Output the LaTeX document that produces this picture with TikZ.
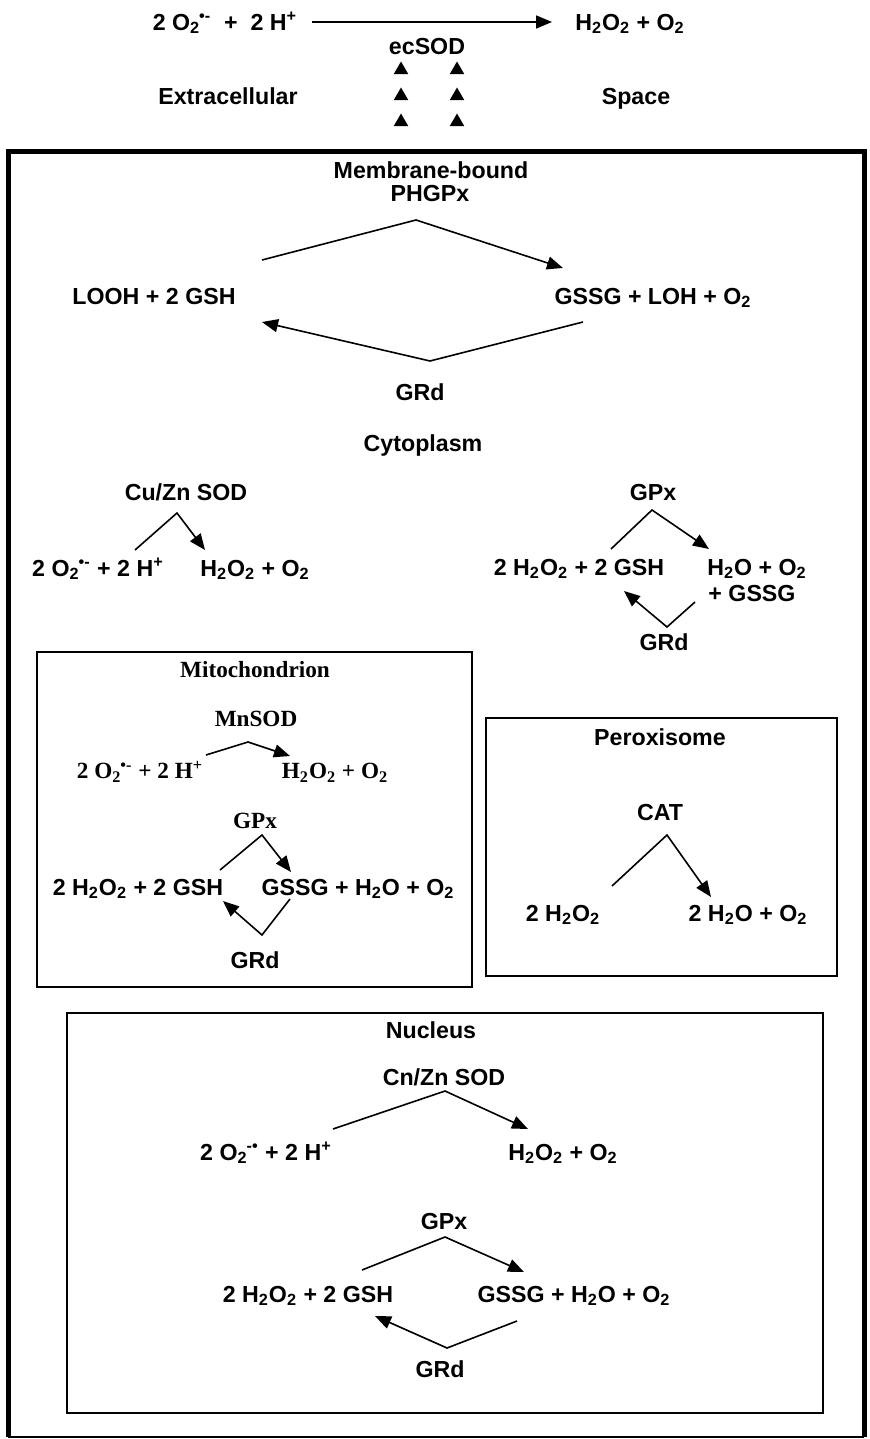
\documentclass[tikz,border=0pt]{standalone}
\usepackage{fontspec}
\setmainfont{Liberation Sans}
\newfontfamily\tms{Liberation Serif}
\usetikzlibrary{arrows.meta,shapes.geometric}
\newcommand\two{\textsubscript{2}}
\newcommand\rad[1]{\textsubscript{2}\kern-0.5pt\textsuperscript{#1}}
\begin{document}
\begin{tikzpicture}[x=0.5pt,y=-0.5pt,
  lbl/.style={inner sep=0pt, text height=8.3pt, text depth=0pt, font=\bfseries\fontsize{11.6}{14}\selectfont},
  slbl/.style={lbl, text height=7.8pt, font=\tms\bfseries\fontsize{11.6}{14}\selectfont},
  rx/.style={line width=0.8pt, -{Triangle[length=8pt,width=6.5pt]}, line join=miter},
  compbox/.style={draw, line width=0.9pt},
  tri/.style={regular polygon, regular polygon sides=3, fill, inner sep=0pt, minimum size=8.5pt}]
\useasboundingbox (0,0) rectangle (870,1439);

% ---------- extracellular ----------
\node[lbl] (ex1) at (225,22) {2 O\rad{•-}\ \ +\ \ 2 H\textsuperscript{+}};
\node[lbl] (ex2) at (630,22) {H\two O\two{} + O\two};
\coordinate (ta1) at (312,22);
\coordinate (ta2) at (552,22);
\draw[rx] (ta1) -- (ta2);
\node[lbl] (ecsod) at (427,46) {ecSOD};
\node[tri] (t11) at (401,70) {};
\node[tri] (t12) at (457,70) {};
\node[tri] (t21) at (401,96) {};
\node[tri] (t22) at (457,96) {};
\node[tri] (t31) at (401,122) {};
\node[tri] (t32) at (457,122) {};
\node[lbl] (extra) at (228,96) {Extracellular};
\node[lbl] (space) at (636,96) {Space};

% ---------- cell boundary ----------
\draw[line width=2.5pt, line join=miter] (8,1437) -- (8,152) -- (864,152) -- (864,1437);
\draw[line width=0.8pt] (8,1437) -- (864,1437);

% ---------- membrane ----------
\node[lbl] (mb1) at (431,170) {Membrane-bound};
\node[lbl] (mb2) at (430,193) {PHGPx};
\node[lbl] (looh) at (154,296) {LOOH + 2 GSH};
\node[lbl] (gssg) at (653,296) {GSSG + LOH + O\two};
\coordinate (m1s) at (262,260);
\coordinate (m1a) at (416,220);
\coordinate (m1e) at (563,268);
\draw[rx] (m1s) -- (m1a) -- (m1e);
\coordinate (m2s) at (583,322);
\coordinate (m2a) at (430,361);
\coordinate (m2e) at (262,322);
\draw[rx] (m2s) -- (m2a) -- (m2e);
\node[lbl] (mgrd) at (420,392) {GRd};
\node[lbl] (cyto) at (423,443) {Cytoplasm};

% ---------- cytoplasm left ----------
\node[lbl] (cusod) at (186,492) {Cu/Zn SOD};
\node[lbl] (c1l) at (98,568) {2 O\rad{•-} + 2 H\textsuperscript{+}};
\node[lbl] (c1r) at (255,568) {H\two O\two{} + O\two};
\coordinate (c1s) at (135,550);
\coordinate (c1a) at (177,513);
\coordinate (c1e) at (205,550);
\draw[rx] (c1s) -- (c1a) -- (c1e);

% ---------- cytoplasm right ----------
\node[lbl] (cgpx) at (653,492) {GPx};
\node[lbl] (c2l) at (579,567) {2 H\two O\two{} + 2 GSH};
\node[lbl] (c2r1) at (757,567) {H\two O + O\two};
\node[lbl] (c2r2) at (752,593) {+ GSSG};
\coordinate (c2s) at (611,549);
\coordinate (c2a) at (652,510);
\coordinate (c2e) at (709,549);
\draw[rx] (c2s) -- (c2a) -- (c2e);
\coordinate (c3s) at (695,602);
\coordinate (c3a) at (667,627);
\coordinate (c3e) at (624,591);
\draw[rx] (c3s) -- (c3a) -- (c3e);
\node[lbl] (cgrd) at (664,642) {GRd};

% ---------- mitochondrion ----------
\draw[compbox] (37,652) rectangle (472,987);
\node[slbl] (mito) at (255,670) {Mitochondrion};
\node[slbl] (mnsod) at (256,719) {MnSOD};
\node[slbl] (mo1l) at (140,771) {2 O\rad{•-} + 2 H\textsuperscript{+}};
\node[slbl] (mo1r) at (335,771) {H\two O\two{} + O\two};
\coordinate (mo1s) at (206,755);
\coordinate (mo1a) at (248,742);
\coordinate (mo1e) at (290,756);
\draw[rx] (mo1s) -- (mo1a) -- (mo1e);
\node[slbl] (mgpx) at (255,821) {GPx};
\node[lbl] (mo2l) at (138,887) {2 H\two O\two{} + 2 GSH};
\node[lbl] (mo2r) at (358,887) {GSSG + H\two O + O\two};
\coordinate (mo2s) at (220,870);
\coordinate (mo2a) at (262,835);
\coordinate (mo2e) at (291,872);
\draw[rx] (mo2s) -- (mo2a) -- (mo2e);
\coordinate (mo3s) at (290,899);
\coordinate (mo3a) at (262,935);
\coordinate (mo3e) at (223,901);
\draw[rx] (mo3s) -- (mo3a) -- (mo3e);
\node[lbl] (mogrd) at (255,960) {GRd};

% ---------- peroxisome ----------
\draw[compbox] (486,718) rectangle (837,976);
\node[lbl] (perox) at (660,737) {Peroxisome};
\node[lbl] (cat) at (660,812) {CAT};
\node[lbl] (pl) at (563,913) {2 H\two O\two};
\node[lbl] (pr) at (748,913) {2 H\two O + O\two};
\coordinate (ps) at (612,886);
\coordinate (pa) at (667,835);
\coordinate (pe) at (711,897);
\draw[rx] (ps) -- (pa) -- (pe);

% ---------- nucleus ----------
\draw[compbox] (67,1013) rectangle (823,1413);
\node[lbl] (nuc) at (431,1030) {Nucleus};
\node[lbl] (nsod) at (444,1077) {Cn/Zn SOD};
\node[lbl] (n1l) at (266,1152) {2 O\rad{-•} + 2 H\textsuperscript{+}};
\node[lbl] (n1r) at (563,1152) {H\two O\two{} + O\two};
\coordinate (n1s) at (333,1129);
\coordinate (n1a) at (445,1091);
\coordinate (n1e) at (528,1129);
\draw[rx] (n1s) -- (n1a) -- (n1e);
\node[lbl] (ngpx) at (444,1221) {GPx};
\node[lbl] (n2l) at (308,1294) {2 H\two O\two{} + 2 GSH};
\node[lbl] (n2r) at (574,1294) {GSSG + H\two O + O\two};
\coordinate (n2s) at (362,1270);
\coordinate (n2a) at (445,1237);
\coordinate (n2e) at (524,1272);
\draw[rx] (n2s) -- (n2a) -- (n2e);
\coordinate (n3s) at (517,1321);
\coordinate (n3a) at (447,1348);
\coordinate (n3e) at (375,1316);
\draw[rx] (n3s) -- (n3a) -- (n3e);
\node[lbl] (ngrd) at (440,1369) {GRd};
\end{tikzpicture}
\end{document}
